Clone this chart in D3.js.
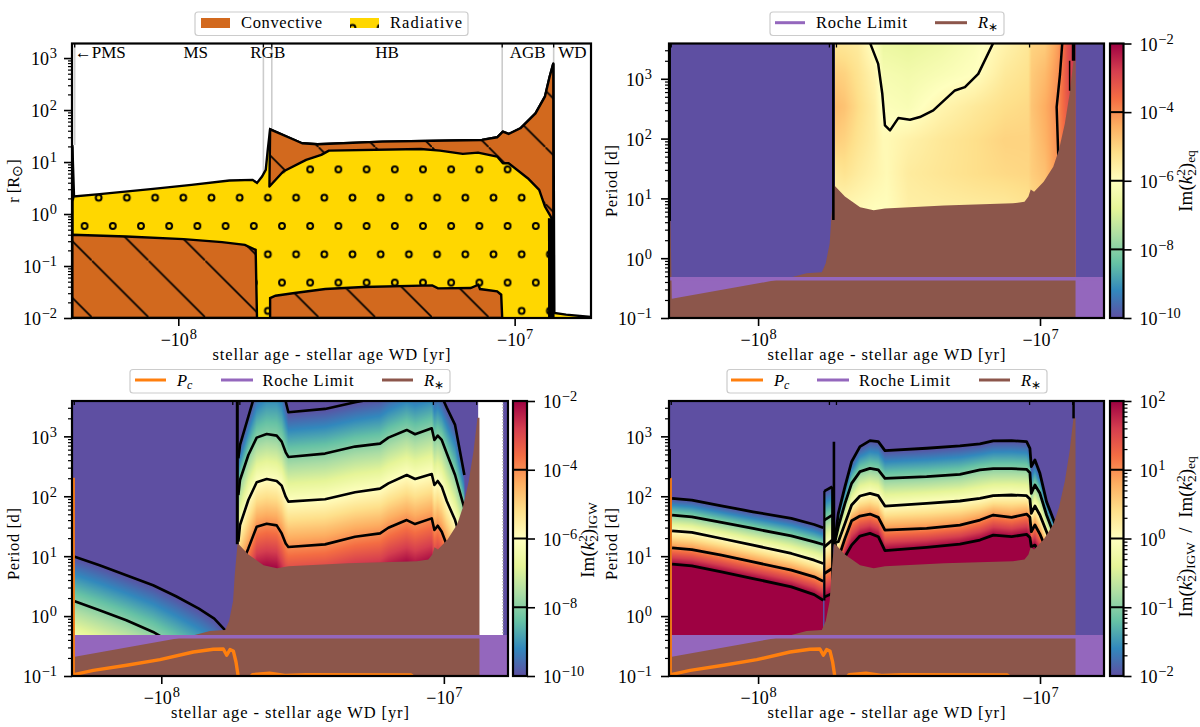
<!DOCTYPE html>
<html><head><meta charset="utf-8">
<style>html,body{margin:0;padding:0;background:#fff}svg{display:block}text{font-family:"Liberation Serif",serif;fill:#000}</style>
<script src="https://cdnjs.cloudflare.com/ajax/libs/d3/7.8.5/d3.min.js"></script>
</head><body><div id="c"></div>
<script>
// ---------- data: all ages are log10(-age/yr); radii and periods are log10 ----------
const ageDomain=[8.316,6.773];
const ageTicks=[8,7];
const rExpTicks=[-2,-1,0,1,2,3];
const pExpTicks=[-1,0,1,2,3];
const surfaceAge=[8.315,8.310,8.234,8.075,7.961,7.848,7.779,7.766,7.751,7.740,7.734,7.727,7.666,7.632,7.586,7.393,7.097,7.052,7.035,7.018,6.983,6.938,6.910,6.896,6.885,6.882,6.847,6.773];
const surfaceR=[1.329,0.337,0.382,0.484,0.561,0.644,0.657,0.599,0.721,0.849,1.233,1.630,1.457,1.361,1.342,1.393,1.425,1.476,1.585,1.540,1.649,1.937,2.257,2.641,2.897,-1.904,-1.936,-1.981];
const envelopeBaseAge=[7.729,7.688,7.620,7.575,7.552,7.279,7.222,7.154,7.109,7.052,7.035,7.018,6.961,6.927,6.910,6.893,6.885];
const envelopeBaseR=[0.529,0.817,1.041,1.137,1.220,1.252,1.220,1.156,1.182,1.105,0.977,0.977,0.689,0.465,0.145,-0.047,-0.143];
const msCoreAge=[8.316,8.316,8.155,7.984,7.870,7.802,7.770,7.766];
const msCoreR=[-2,-0.400,-0.431,-0.483,-0.540,-0.592,-0.688,-2];
const hbCoreAge=[7.727,7.727,7.711,7.654,7.563,7.450,7.245,7.228,7.131,7.108,7.103,7.052,7.040,7.037];
const hbCoreR=[-2,-1.616,-1.571,-1.520,-1.443,-1.405,-1.373,-1.430,-1.424,-1.360,-1.443,-1.488,-1.552,-2];
const phaseAges=[8.308,7.747,7.722,7.037,6.884];
const phaseTopR=[1.33,0.65,1.63,1.58,2.9];
const phaseNames=["\u2190PMS","MS","RGB","HB","AGB","WD"];
const phaseNameAges=[8.308,7.948,7.734,7.379,6.961,6.828];

const starAge=[8.316,8.311,8.306,7.95,7.882,7.828,7.774,7.76,7.746,7.74,7.73,7.692,7.638,7.59,7.55,7.34,7.096,7.055,7.041,7.033,7.021,6.987,6.953,6.933,6.912,6.895,6.881,6.874];
const starP=[0.75,0.75,-0.68,-0.378,-0.317,-0.25,-0.233,-0.083,0.25,0.69,1.22,1.03,0.85,0.8,0.83,0.88,0.917,0.944,1.03,1.15,1.11,1.28,1.53,1.81,2.25,2.75,3.31,3.31];
const rocheP=-0.344, rocheFillTop=-0.317;
const pcAge=[8.312,8.312,8.3054,8.2406,8.1224,8.0046,7.8867,7.816,7.7806,7.7685,7.7568,7.7451,7.7356,7.7275,7.7,7.677,7.617,7.562,7.488,7.116,7.1];
const pcP=[2.31,-1.02,-0.972,-0.905,-0.821,-0.726,-0.599,-0.554,-0.549,-0.654,-0.559,-0.582,-0.766,-1.017,-1.1,-0.978,-0.955,-0.989,-0.978,-0.983,-1.05];

// equilibrium-tide panel: read-off grid of log10 Im(k22)eq
const eqGridAge=[7.7272,7.6918,7.6445,7.5854,7.5559,7.5440,7.4672,7.3490,7.2308,7.1244,7.0417,7.0299,6.9826,6.9353,6.9058,6.8821,6.874];
const eqGridP=[3.59,3.08,2.53,1.97,1.42,0.86];
const eqP357=[-5.35,-5.4,-5.5,-6.1,-6.6,-6.6,-6.7,-6.5,-6.15,-5.7,-5.4,-5.0,-4.9,-4.2,-3.2,-2.7,-2.7];
const eqP308=[-4.9,-5.0,-5.3,-5.75,-6.3,-6.3,-6.4,-6.2,-6.0,-5.45,-5.25,-4.85,-4.6,-4.05,-3.2,-2.7,-2.7];
const eqP253=[-4.6,-4.75,-5.15,-5.6,-6.1,-6.1,-6.2,-5.75,-5.45,-5.2,-5.1,-4.75,-4.4,-3.95,-3.3,-2.9,-2.9];
const eqP197=[-4.9,-5.0,-5.3,-5.6,-5.85,-5.85,-5.65,-5.4,-5.2,-5.0,-5.0,-4.85,-4.5,-4.0,-3.4,-3.0,-3.0];
const eqP142=[-5.4,-5.3,-5.5,-5.7,-5.8,-5.85,-5.5,-5.35,-5.2,-5.1,-5.05,-4.9,-4.7,-4.0,-3.5,-3.2,-3.2];
const eqP086=[-5.7,-5.8,-5.85,-5.95,-5.95,-5.95,-5.6,-5.55,-5.5,-5.45,-5.3,-5.2,-4.9,-4.3,-3.6,-3.3,-3.3];
const eqContourAgeA=[7.603,7.574,7.5594,7.55,7.532,7.5027,7.461,7.426,7.3786,7.3017,7.2663,7.219,7.1658];
const eqContourPA=[3.6,3.249,2.749,2.221,2.138,2.343,2.316,2.36,2.471,2.805,2.86,3.082,3.6];
const eqContourAgeB=[6.921,6.929,6.941,6.935];
const eqContourPB=[3.6,3.08,2.527,1.693];

// IGW panel contours (levels -10,-8,-6,-4)
const igwMsAge=[8.3065,8.2185,8.1238,8.029,7.948,7.867,7.8125,7.772];
const igwMsM10=[0.989,0.850,0.682,0.515,0.331,0.125,-0.042,-0.248];
const igwMsM8=[0.248,0.097,-0.070,-0.265,-0.487,-0.71,-0.877,-1.017];
const igwAge=[7.7273,7.7214,7.6919,7.6624,7.627,7.5916,7.5739,7.5597,7.5503,7.4205,7.3143,7.2258,7.1963,7.1314,7.1019,7.0429,7.0335,7.0217,7.0075,6.9898,6.9603,6.9273];
const igwM10=[2.634,2.856,3.330,3.803,4.026,4.054,3.915,3.581,3.402,3.458,3.569,3.647,3.737,3.887,3.831,3.915,3.720,3.776,3.664,3.480,3.191,2.355];
const igwM8=[2.021,2.272,2.689,2.979,3.040,3.012,2.912,2.734,2.656,2.712,2.829,2.879,2.979,3.107,3.035,3.135,2.940,3.012,2.940,2.717,2.355,1.798];
const igwM6=[1.241,1.520,1.937,2.233,2.288,2.255,2.177,1.993,1.910,1.949,2.066,2.127,2.216,2.355,2.288,2.372,2.188,2.255,2.160,1.921,1.603,1.074];
const igwM4=[0.517,0.796,1.130,1.492,1.542,1.514,1.380,1.213,1.152,1.197,1.325,1.380,1.475,1.603,1.536,1.631,1.436,1.509,1.408,1.186,0.851,0.350];
const igwBlank=[6.8786,6.7906];

// ratio panel contours (levels -2,-1,0,1,2)
const ratioMsAge=[8.305,8.235,8.13,8.018,7.882,7.801,7.769];
const ratioMsM2=[1.964,1.936,1.841,1.741,1.630,1.529,1.474];
const ratioMsM1=[1.685,1.657,1.563,1.462,1.340,1.240,1.195];
const ratioMs0=[1.423,1.396,1.295,1.184,1.045,0.933,0.877];
const ratioMs1=[1.139,1.111,1.017,0.905,0.766,0.655,0.582];
const ratioMs2=[0.866,0.838,0.738,0.627,0.487,0.359,0.265];
const ratioRgbAge=[7.765,7.737];
const ratioRgbM2=[2.086,2.159];
const ratioRgbM1=[1.602,1.685];
const ratioRgb0=[1.156,1.267];
const ratioRgb1=[0.710,0.794];
const ratioRgb2=[0.320,0.376];
const ratioAge=[7.7273,7.7154,7.6918,7.6682,7.6386,7.6031,7.5736,7.55,7.4022,7.2840,7.2131,7.1658,7.1008,7.0476,7.0358,7.031,7.018,7.0003,6.9767,6.9471];
const ratioM2=[1.269,1.7145,2.160,2.578,2.8285,2.929,2.912,2.762,2.801,2.840,2.873,2.923,2.929,2.912,2.801,2.494,2.606,2.383,1.909,1.547];
const ratioM1=[1.241,1.492,1.882,2.216,2.411,2.466,2.439,2.299,2.327,2.366,2.439,2.461,2.461,2.450,2.394,2.049,2.188,2.049,1.687,1.325];
const ratio0=[1.224,1.241,1.547,1.854,2.004,2.049,2.010,1.837,1.882,1.921,1.965,2.010,2.021,2.010,1.954,1.715,1.837,1.687,1.408,1.046];
const ratio1=[1.213,0.963,1.297,1.592,1.670,1.703,1.648,1.436,1.464,1.520,1.603,1.687,1.648,1.703,1.648,1.408,1.520,1.369,1.102,0.768];
const ratio2=[1.202,0.712,0.990,1.185,1.336,1.380,1.325,1.091,1.146,1.202,1.269,1.352,1.325,1.364,1.313,1.157,1.185,1.046,0.768,0.433];

// ---------- helpers ----------
const W=1200,H=727;
const svg=d3.select("#c").append("svg").attr("width",W).attr("height",H);
const defs=svg.append("defs");
const pow=v=>10**v, age=lg=>-(10**lg);
const colors=d3.schemeSpectral[11].slice().reverse();
const cmap=d3.scaleLinear().domain(d3.range(11).map(i=>i/10)).range(colors).clamp(true);
const lut=d3.range(1025).map(i=>d3.rgb(cmap(i/1024)));
const TICK=18, LABEL=16.5, CBLABEL=19;

function rich(t,parts){ parts.forEach(p=>{const s=t.append("tspan").text(p.t);
  if(p.dy)s.attr("dy",p.dy); if(p.dx)s.attr("dx",p.dx);
  if(p.z)s.style("font-size",p.z+"px"); if(p.i)s.style("font-style","italic");});return t;}
function pow10Label(t,prefix,e,size){ t.text(null);
  const ss=size*0.8;
  const ps=[{t:prefix+"10"},{t:(e<0?"\u2212":"")+Math.abs(e),dy:-7,dx:0.8,z:ss}];
  return rich(t,ps);}
function imk(size,sub){ const s=size*0.7; return [{t:"Im("},{t:"k",i:1},{t:"2",dy:-7,z:s},{t:"2",dx:-size*0.35,dy:11,z:s},{t:")",dy:-4},{t:sub,dy:3,z:s}];}

function logAxisY(sc,x,exps,side){
  const [lo,hi]=sc.domain();
  const minors=[];exps.concat([exps[0]-1,exps[exps.length-1]+1]).forEach(e=>d3.range(2,10).forEach(m=>{const v=m*10**e;if(v>=lo&&v<=hi)minors.push(v);}));
  const mk=side==="r"?d3.axisRight:d3.axisLeft;
  const g=svg.append("g").attr("transform",`translate(${x},0)`);
  g.call(mk(sc).tickValues(minors).tickSize(4).tickFormat(""));
  g.selectAll(".domain").remove();g.selectAll("line").attr("stroke-width",1.2);
  return g;
}
function majorY(sc,x,exps,side,gap){
  const mk=side==="r"?d3.axisRight:d3.axisLeft;
  const g=svg.append("g").attr("transform",`translate(${x},0)`);
  g.call(mk(sc).tickValues(exps.map(pow)).tickSize(8).tickPadding(gap));
  g.selectAll(".domain").remove();g.selectAll("line").attr("stroke-width",1.6);
  g.selectAll("text").style("font-size",TICK+"px").attr("dy","0.38em")
   .each(function(d){pow10Label(d3.select(this),"",Math.round(Math.log10(d)),TICK);});
  return g;
}
function frame(p){
  const x=d3.scaleLog().domain(ageDomain.map(age)).range([p.l,p.r]);
  p.x=x;
  const g=svg.append("g").attr("transform",`translate(0,${p.b})`);
  g.call(d3.axisBottom(x).tickValues(ageTicks.map(age)).tickSize(8).tickPadding(6));
  g.selectAll(".domain").remove();g.selectAll("line").attr("stroke-width",1.6);
  g.selectAll("text").style("font-size",TICK+"px").attr("dy","0.78em")
   .each(function(d){pow10Label(d3.select(this),"\u2212",Math.round(Math.log10(-d)),TICK);});
  svg.append("text").attr("x",(p.l+p.r)/2).attr("y",p.b+42).attr("text-anchor","middle")
   .style("font-size",LABEL+"px").attr("textLength",238).attr("lengthAdjust","spacing").text("stellar age - stellar age WD [yr]");
}
function clipFor(p,id){defs.append("clipPath").attr("id",id).append("rect").attr("x",p.l).attr("y",p.t).attr("width",p.r-p.l).attr("height",p.b-p.t);}
function spine(p){svg.append("rect").attr("x",p.l).attr("y",p.t).attr("width",p.r-p.l).attr("height",p.b-p.t).attr("fill","none").attr("stroke","#000").attr("stroke-width",2.2);}
function stubs(p){svg.append("g").selectAll("line").data(phaseAges).join("line")
  .attr("x1",d=>p.x(age(d))).attr("x2",d=>p.x(age(d))).attr("y1",p.t).attr("y2",p.t+4).attr("stroke","#000").attr("stroke-width",1.3);}
function legendBox(x0,x1,y0,y1){svg.append("rect").attr("x",x0).attr("y",y0).attr("width",x1-x0).attr("height",y1-y0).attr("rx",3).attr("fill","#fff").attr("stroke","#ccc").attr("stroke-width",1.2);}
function legendLine(x0,x1,y,c){svg.append("line").attr("x1",x0).attr("x2",x1).attr("y1",y).attr("y2",y).attr("stroke",c).attr("stroke-width",3);}
function legendText(x,y,parts,len){const t=svg.append("text").attr("x",x).attr("y",y).style("font-size",LABEL+"px");
  if(typeof parts==="string"){t.text(parts);if(len)t.attr("textLength",len).attr("lengthAdjust","spacing");}else rich(t,parts);}
const Rstar=[{t:"R",i:1},{t:"\u2217",dy:3,z:12}], Pc=[{t:"P",i:1},{t:"c",i:1,dy:3,z:12}];

function yLabel(x,y,parts,len,size){const t=svg.append("text").attr("transform",`translate(${x},${y}) rotate(-90)`).attr("text-anchor","middle").style("font-size",(size||LABEL)+"px");
  if(typeof parts==="string"){t.text(parts);if(len)t.attr("textLength",len).attr("lengthAdjust","spacing");}else rich(t,parts);}

// heat map: image built from a value function
function heat(p,clip,fn){
  const sc=2,w=Math.round((p.r-p.l)*sc),h=Math.round((p.b-p.t)*sc);
  const cv=document.createElement("canvas");cv.width=w;cv.height=h;
  const c=cv.getContext("2d"),im=c.createImageData(w,h);
  const cols=d3.range(w).map(i=>Math.log10(-p.x.invert(p.l+(i+.5)/sc)));
  const rows=d3.range(h).map(j=>Math.log10(p.y.invert(p.t+(j+.5)/sc)));
  cols.forEach((lg,i)=>{const f=fn(lg);rows.forEach((lp,j)=>{
    const v=f(lp),t=Math.max(0,Math.min(1,(v-p.vmin)/(p.vmax-p.vmin))),col=lut[Math.round(t*1024)],k=(j*w+i)*4;
    im.data[k]=col.r;im.data[k+1]=col.g;im.data[k+2]=col.b;im.data[k+3]=255;});});
  c.putImageData(im,0,0);
  svg.append("image").attr("x",p.l).attr("y",p.t).attr("width",p.r-p.l).attr("height",p.b-p.t).attr("preserveAspectRatio","none").attr("href",cv.toDataURL());
}
// domains of contour curves -> value function
function domainField(doms,vmin){
  const ds=doms.map(d=>({hi:d.age[0],lo:d.age[d.age.length-1],levels:d.levels,sc:d.curves.map(cu=>d3.scaleLinear().domain(d.age).range(cu).clamp(true))}));
  return lg=>{const d=ds.find(q=>lg<=q.hi&&lg>=q.lo); if(!d)return ()=>vmin-1;
    const cs=d.sc.map(s=>s(lg)),L=d.levels,n=L.length;
    return lp=>{
      if(lp>=cs[0])return L[0]-1;
      for(let i=1;i<n;i++){ if(lp>=cs[i]){return L[i-1]+(cs[i-1]-lp)/(cs[i-1]-cs[i])*(L[i]-L[i-1]);}}
      const sp=Math.max(cs[n-2]-cs[n-1],0.05);
      return L[n-1]+(cs[n-1]-lp)/sp*(L[n-1]-L[n-2]);
    };};
}
function contours(p,clip,age_,curves,w){
  const line=d3.line().x(d=>p.x(age(d[0]))).y(d=>p.y(pow(d[1])));
  const g=svg.append("g").attr("clip-path",`url(#${clip})`);
  curves.forEach(cu=>g.append("path").attr("d",line(age_.map((a,i)=>[a,cu[i]]))).attr("fill","none").attr("stroke","#000").attr("stroke-width",w).attr("stroke-linejoin","round"));
}
function starLayers(p,clip){
  const g=svg.append("g").attr("clip-path",`url(#${clip})`);
  g.append("rect").attr("x",p.l).attr("width",p.r-p.l).attr("y",p.y(pow(rocheFillTop))).attr("height",p.b-p.y(pow(rocheFillTop))).attr("fill","#9467bd");
  const area=d3.area().x(d=>p.x(age(d[0]))).y0(p.b).y1(d=>p.y(pow(d[1])));
  g.append("path").attr("d",area(starAge.map((a,i)=>[a,starP[i]]))).attr("fill","#8c564b");
  g.append("line").attr("x1",p.l).attr("x2",p.r).attr("y1",p.y(pow(rocheP))).attr("y2",p.y(pow(rocheP))).attr("stroke","#9467bd").attr("stroke-width",3.6);
  return g;
}
function pcLine(p,g){
  const line=d3.line().x(d=>p.x(age(d[0]))).y(d=>p.y(pow(d[1])));
  g.append("path").attr("d",line(pcAge.map((a,i)=>[a,pcP[i]]))).attr("fill","none").attr("stroke","#ff7f0e").attr("stroke-width",3.4).attr("stroke-linejoin","round");
}
function verticals(p,clip,rows){
  const g=svg.append("g").attr("clip-path",`url(#${clip})`);
  g.selectAll("line").data(rows).join("line").attr("x1",d=>p.x(age(d[0]))).attr("x2",d=>p.x(age(d[0])))
   .attr("y1",d=>p.y(pow(d[1]))).attr("y2",d=>p.y(pow(d[2]))).attr("stroke","#000").attr("stroke-width",d=>d[3]);
}
function colorbar(p,cb,id,exps,lineExps,minor){
  const sc=d3.scaleLog().domain([pow(exps[0]),pow(exps[exps.length-1])]).range([p.b,p.t]);
  const gr=defs.append("linearGradient").attr("id",id).attr("x1",0).attr("x2",0).attr("y1",1).attr("y2",0);
  colors.forEach((c,i)=>gr.append("stop").attr("offset",i/10).attr("stop-color",c));
  svg.append("rect").attr("x",cb.l).attr("width",cb.r-cb.l).attr("y",p.t).attr("height",p.b-p.t).attr("fill",`url(#${id})`);
  svg.append("g").selectAll("line").data(lineExps).join("line").attr("x1",cb.l).attr("x2",cb.r)
    .attr("y1",d=>sc(pow(d))).attr("y2",d=>sc(pow(d))).attr("stroke","#000").attr("stroke-width",2);
  svg.append("rect").attr("x",cb.l).attr("width",cb.r-cb.l).attr("y",p.t).attr("height",p.b-p.t).attr("fill","none").attr("stroke","#000").attr("stroke-width",2.2);
  if(minor)logAxisY(sc,cb.r,exps.slice(0,-1),"r");
  majorY(sc,cb.r,exps,"r",8).selectAll("text").attr("text-anchor","start");
}

// ---------- panels ----------
const A={l:72,r:591,t:43.5,b:318};
const B={l:669,r:1104,t:43.5,b:318};
const C={l:72,r:508,t:401,b:676};
const D={l:669,r:1104,t:401,b:676};

// Panel A
(function(){
  const p=A;
  const x=d3.scaleLog().domain(ageDomain.map(age)).range([p.l,p.r]);
  const y=d3.scaleLog().domain([0.01,pow(3.28)]).range([p.b,p.t]); p.y=y;
  clipFor(p,"clipA");
  const pat=defs.append("pattern").attr("id","rings").attr("patternUnits","userSpaceOnUse").attr("x",84.6).attr("y",226).attr("width",28.2).attr("height",56.6);
  pat.append("rect").attr("width",28.2).attr("height",56.6).attr("fill","#ffd700");
  [[0,0],[28.2,0],[0,56.6],[28.2,56.6],[14.1,28.3]].forEach(c=>pat.append("circle").attr("cx",c[0]).attr("cy",c[1]).attr("r",2.9).attr("fill","#ffd700").attr("stroke","#000").attr("stroke-width",2));
  const hat=defs.append("pattern").attr("id","hatch").attr("patternUnits","userSpaceOnUse").attr("x",91.8).attr("y",317.3).attr("width",56.7).attr("height",56.7);
  hat.append("rect").attr("width",56.7).attr("height",56.7).attr("fill","#d2691e");
  hat.append("path").attr("d","M-5,-5L61.7,61.7").attr("stroke","#000").attr("stroke-width",1.7);

  const line=d3.line().x(d=>x(age(d[0]))).y(d=>y(pow(d[1])));
  const g=svg.append("g").attr("clip-path","url(#clipA)");
  // phase boundaries
  g.selectAll("line.ph").data(phaseAges).join("line").attr("class","ph").attr("x1",d=>x(age(d))).attr("x2",d=>x(age(d)))
    .attr("y1",p.t).attr("y2",(d,i)=>y(pow(phaseTopR[i]))).attr("stroke","#ccc").attr("stroke-width",1.6);
  // star body (radiative)
  const body=[[surfaceAge[0],-2.1]].concat(surfaceAge.map((a,i)=>[a,surfaceR[i]]),[[ageDomain[1],-2.1]]);
  g.append("path").attr("d",line(body)+"Z").attr("fill","url(#rings)").attr("stroke","#000").attr("stroke-width",2.4);
  // convective envelope
  const i0=surfaceAge.indexOf(7.727), i1=surfaceAge.indexOf(6.885);
  const envTop=surfaceAge.slice(i0,i1+1).map((a,i)=>[a,surfaceR[i0+i]]);
  const envBase=envelopeBaseAge.map((a,i)=>[a,envelopeBaseR[i]]).reverse();
  g.append("path").attr("d",line(envTop.concat(envBase))+"Z").attr("fill","url(#hatch)").attr("stroke","#000").attr("stroke-width",2.4).attr("stroke-linejoin","round");
  // cores
  g.append("path").attr("d",line(msCoreAge.map((a,i)=>[a,msCoreR[i]]))+"Z").attr("fill","url(#hatch)").attr("stroke","#000").attr("stroke-width",2.4);
  g.append("path").attr("d",line(hbCoreAge.map((a,i)=>[a,hbCoreR[i]]))+"Z").attr("fill","url(#hatch)").attr("stroke","#000").attr("stroke-width",2.4);
  // dense unresolved zones near the end of the AGB
  const band=[[6.8915,-0.08],[6.891,-1.0],[6.891,-2.1]];
  g.append("path").attr("d",line(band)).attr("fill","none").attr("stroke","#000").attr("stroke-width",6.5);
  g.append("path").attr("d",line([[8.3155,-2],[8.3155,1.3]])).attr("fill","none").attr("stroke","#000").attr("stroke-width",2.5);
  // labels
  svg.append("g").selectAll("text").data(phaseNames).join("text").attr("x",(d,i)=>x(age(phaseNameAges[i])))
    .attr("y",p.t+14).attr("text-anchor",(d,i)=>i?"middle":"start").style("font-size","17px").text(d=>d);
  frame(p);stubs(p);
  logAxisY(y,p.l,rExpTicks,"l");majorY(y,p.l,rExpTicks,"l",7);
  spine(p);
  yLabel(19,181,[{t:"r [R"},{t:"\u2299",dy:3,z:14},{t:"]",dy:-3}]);
  legendBox(195,468,12,35.5);
  svg.append("rect").attr("x",201).attr("y",18).attr("width",29).attr("height",10).attr("fill","url(#hatch)");
  svg.append("rect").attr("x",350).attr("y",18).attr("width",29).attr("height",10).attr("fill","url(#rings)");
  legendText(241,28,"Convective",81);
  legendText(390,28,"Radiative",72);
})();

// Panel B
(function(){
  const p=B;p.vmin=-10;p.vmax=-2;
  p.y=d3.scaleLog().domain([0.1,pow(3.59)]).range([p.b,p.t]);
  clipFor(p,"clipB");frame(p);
  const rowsArr=[eqP357,eqP308,eqP253,eqP197,eqP142,eqP086];
  const colScale=d3.scaleLinear().domain(eqGridP).range(eqGridP.map((d,i)=>i)).clamp(true);
  const ageScale=rowsArr.map(r=>d3.scaleLinear().domain(eqGridAge).range(r).clamp(true));
  heat(p,"clipB",lg=>{
    if(lg>eqGridAge[0]||lg<eqGridAge[eqGridAge.length-1])return ()=>-11;
    const vs=ageScale.map(s=>s(lg));
    return lp=>{const f=colScale(lp),i=Math.min(Math.floor(f),vs.length-2),t=f-i;return vs[i]*(1-t)+vs[i+1]*t;};
  });
  contours(p,"clipB",eqContourAgeA,[eqContourPA],2.5);
  contours(p,"clipB",eqContourAgeB,[eqContourPB],2.5);
  starLayers(p,"clipB");
  verticals(p,"clipB",[[8.3135,3.6,0.62,2.5],[7.733,3.6,0.64,2.6],[6.881,3.6,3.3,3.5],[6.895,3.3,2.8,1.5]]);
  stubs(p);logAxisY(p.y,p.l,pExpTicks,"l");majorY(p.y,p.l,pExpTicks,"l",9);spine(p);
  yLabel(617,181,"Period [d]",72);
  colorbar(p,{l:1110,r:1123.5},"cbB",[-10,-8,-6,-4,-2],[-8,-6,-4],false);
  yLabel(1192,181,imk(CBLABEL,"eq"),null,CBLABEL);
  legendBox(770,1004,12,35.5);
  legendLine(775,805,22.7,"#9467bd");legendText(816,28,"Roche Limit",91);
  legendLine(935,967,22.7,"#8c564b");legendText(978,28,Rstar);
})();

// Panel C
(function(){
  const p=C;p.vmin=-10;p.vmax=-2;
  p.y=d3.scaleLog().domain([0.1,pow(3.59)]).range([p.b,p.t]);
  clipFor(p,"clipC");frame(p);
  heat(p,"clipC",domainField([
    {age:igwMsAge,levels:[-10,-8],curves:[igwMsM10,igwMsM8]},
    {age:igwAge,levels:[-10,-8,-6,-4],curves:[igwM10,igwM8,igwM6,igwM4]}],-10));
  contours(p,"clipC",igwMsAge,[igwMsM10,igwMsM8],2.6);
  contours(p,"clipC",igwAge,[igwM10,igwM8,igwM6,igwM4],2.6);
  const gb=svg.append("g").attr("clip-path","url(#clipC)");
  gb.append("rect").attr("x",p.x(age(igwBlank[0]))).attr("width",p.x(age(igwBlank[1]))-p.x(age(igwBlank[0]))).attr("y",p.t).attr("height",p.y(pow(rocheFillTop))-p.t).attr("fill","#fff");
  gb.append("line").attr("x1",p.x(age(igwBlank[1]))).attr("x2",p.x(age(igwBlank[1]))).attr("y1",p.t).attr("y2",p.y(pow(rocheFillTop))).attr("stroke","#999").attr("stroke-width",1.2).attr("stroke-dasharray","1.5,1.5");
  const g=starLayers(p,"clipC");pcLine(p,g);
  verticals(p,"clipC",[[7.731,3.6,1.2,3]]);
  stubs(p);logAxisY(p.y,p.l,pExpTicks,"l");majorY(p.y,p.l,pExpTicks,"l",7);spine(p);
  yLabel(19,544,"Period [d]",72);
  colorbar(p,{l:513,r:527},"cbC",[-10,-8,-6,-4,-2],[-8,-6,-4],false);
  yLabel(594,540,imk(CBLABEL,"IGW"),null,CBLABEL);
  legendBox(130,450,369.5,393);
  legendLine(135,166,380,"#ff7f0e");legendText(177,385.5,Pc);
  legendLine(221,253,380,"#9467bd");legendText(262.5,385.5,"Roche Limit",91);
  legendLine(382,413,380,"#8c564b");legendText(424,385.5,Rstar);
})();

// Panel D
(function(){
  const p=D;p.vmin=-2;p.vmax=2;
  p.y=d3.scaleLog().domain([0.1,pow(3.59)]).range([p.b,p.t]);
  clipFor(p,"clipD");frame(p);
  const L=[-2,-1,0,1,2];
  heat(p,"clipD",domainField([
    {age:ratioMsAge,levels:L,curves:[ratioMsM2,ratioMsM1,ratioMs0,ratioMs1,ratioMs2]},
    {age:ratioRgbAge,levels:L,curves:[ratioRgbM2,ratioRgbM1,ratioRgb0,ratioRgb1,ratioRgb2]},
    {age:ratioAge,levels:L,curves:[ratioM2,ratioM1,ratio0,ratio1,ratio2]}],-2));
  contours(p,"clipD",ratioMsAge,[ratioMsM2,ratioMsM1,ratioMs0,ratioMs1,ratioMs2],2.8);
  contours(p,"clipD",ratioRgbAge,[ratioRgbM2,ratioRgbM1,ratioRgb0,ratioRgb1,ratioRgb2],2.8);
  contours(p,"clipD",ratioAge,[ratioM2,ratioM1,ratio0,ratio1,ratio2],2.8);
  verticals(p,"clipD",[[7.765,2.09,0.26,2.2],[7.737,2.16,0.3,2.2]]);
  const g=starLayers(p,"clipD");pcLine(p,g);
  verticals(p,"clipD",[[8.3135,2.79,2.3,2.5],[7.731,2.91,1.2,2.6],[6.881,3.6,3.3,2.5]]);
  stubs(p);logAxisY(p.y,p.l,pExpTicks,"l");majorY(p.y,p.l,pExpTicks,"l",9);spine(p);
  yLabel(617,544,"Period [d]",72);
  colorbar(p,{l:1110,r:1123.5},"cbD",[-2,-1,0,1,2],[-1,0,1],true);
  yLabel(1192,537,imk(CBLABEL,"IGW").concat([{t:"\u00a0\u00a0/\u00a0\u00a0",dy:-3}],imk(CBLABEL,"eq")),null,CBLABEL);
  legendBox(727,1047,369.5,393);
  legendLine(731,763,380,"#ff7f0e");legendText(774,385.5,Pc);
  legendLine(817,849,380,"#9467bd");legendText(859,385.5,"Roche Limit",91);
  legendLine(979,1010,380,"#8c564b");legendText(1021,385.5,Rstar);
})();
</script></body></html>
